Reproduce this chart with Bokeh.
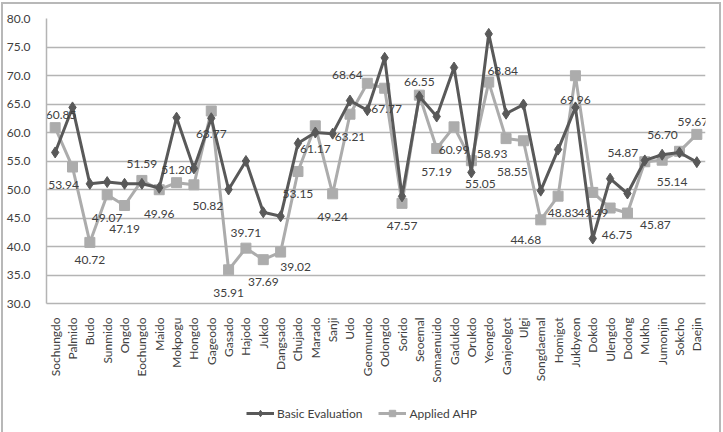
from bokeh.plotting import figure
from bokeh.layouts import column
from bokeh.models import (FactorRange, Range1d, FixedTicker, PrintfTickFormatter,
                          ColumnDataSource, Legend, LegendItem)
from bokeh.core.properties import value
from bokeh.embed import file_html
from bokeh.resources import INLINE
import math

categories = ["Sochungdo", "Palmido", "Budo", "Sunmido", "Ongdo", "Eochungdo", "Maido",
              "Mokpogu", "Hongdo", "Gageodo", "Gasado", "Hajodo", "Jukdo", "Dangsado",
              "Chujado", "Marado", "Sanji", "Udo", "Geomundo", "Odongdo", "Sorido",
              "Seoemal", "Somaenuido", "Gadukdo", "Orukdo", "Yeongdo", "Ganjeolgot",
              "Ulgi", "Songdaemal", "Homigot", "Jukbyeon", "Dokdo", "Ulengdo", "Dodong",
              "Mukho", "Jumonjin", "Sokcho", "Daejin"]

basic_evaluation = [56.5, 64.4, 51.0, 51.3, 51.0, 51.0, 50.3, 62.6, 53.7, 62.5,
                    50.0, 55.0, 46.0, 45.3, 58.1, 60.0, 59.8, 65.6, 63.9, 73.1,
                    48.8, 66.3, 62.8, 71.4, 53.0, 77.3, 63.3, 64.9, 49.8, 57.0,
                    64.4, 41.4, 51.9, 49.3, 55.1, 56.1, 56.5, 54.8]

applied_ahp = [60.85, 53.94, 40.72, 49.07, 47.19, 51.59, 49.96, 51.20, 50.82, 63.77,
               35.91, 39.71, 37.69, 39.02, 53.15, 61.17, 49.24, 63.21, 68.64, 67.77,
               47.57, 66.55, 57.19, 60.99, 55.05, 68.84, 58.93, 58.55, 44.68, 48.83,
               69.96, 49.49, 46.75, 45.87, 54.87, 55.14, 56.70, 59.67]

y_ticks = [30, 35, 40, 45, 50, 55, 60, 65, 70, 75, 80]
series_names = ["Basic Evaluation", "Applied AHP"]

# label placement (screen-pixel offsets from each Applied AHP point; dy positive = down)
label_dx = [6, -9, 0, 0, 0, 0, 0, 0, 14, 0, 0, 0, 0, 15, 0, 0, 0, 0, -20, 2,
            0, 0, 0, 0, 9, 14, -14, -11, -15, 5, 0, 0, 7, 28, -22, 10, -17, -4]
label_dy = [-13, 18, 18, 23, 23, -16, 24, -13, 21, 23, 23, -15, 22, 15, 22, 23, 23, 23, -8, 21,
            23, -13, 23, 23, 23, -11, 15, 31, 20, 17, 24, 21, 27, 12, -9, 22, -16, -12]

DARK = "#595959"
LIGHT = "#acacac"
GRID = "#b4b4b4"
TXT = "#404040"
FONT = "Lato"

src = ColumnDataSource(dict(
    cat=categories, idx=list(range(len(categories))), basic=basic_evaluation,
    ahp=applied_ahp, lbl=["%.2f" % v for v in applied_ahp], dx=label_dx, dy=label_dy))

p = figure(width=716, height=389, output_backend="svg", toolbar_location=None,
           x_range=FactorRange(*categories), y_range=Range1d(30, 80),
           min_border_left=42, min_border_right=14, min_border_top=14,
           min_border_bottom=90)
p.outline_line_color = None
p.background_fill_color = "white"
p.border_fill_color = "white"

p.xgrid.grid_line_color = None
p.ygrid.grid_line_color = GRID
p.ygrid.grid_line_width = 1.5

p.yaxis.ticker = FixedTicker(ticks=y_ticks)
p.yaxis.formatter = PrintfTickFormatter(format="%.1f")
p.yaxis.major_tick_line_color = None
p.yaxis.minor_tick_line_color = None
p.yaxis.axis_line_color = GRID
p.yaxis.axis_line_width = 1.5
p.yaxis.major_label_text_font = FONT
p.yaxis.major_label_text_font_size = "12px"
p.yaxis.major_label_text_color = TXT
p.yaxis.major_label_standoff = 10

p.xaxis.major_tick_line_color = None
p.xaxis.axis_line_color = GRID
p.xaxis.axis_line_width = 1.5
p.xaxis.major_label_orientation = math.pi / 2
p.xaxis.major_label_text_font = FONT
p.xaxis.major_label_text_font_size = "12px"
p.xaxis.major_label_text_color = TXT
p.xaxis.major_label_standoff = 8

p.line("cat", "ahp", source=src, line_color=LIGHT, line_width=3)
p.scatter("cat", "ahp", source=src, marker="square", size=10,
          fill_color=LIGHT, line_color=LIGHT)
p.line("cat", "basic", source=src, line_color=DARK, line_width=3)
p.scatter("cat", "basic", source=src, marker="diamond", size=11,
          fill_color=DARK, line_color=DARK)

p.text("cat", "ahp", text="lbl", source=src, x_offset="dx", y_offset="dy",
       text_align="center", text_baseline="middle", text_font=value(FONT),
       text_font_size="12px", text_color=TXT)

# legend strip below the chart: same series drawn out of view, only their legend shows
lf = figure(width=716, height=39, output_backend="svg", toolbar_location=None,
            x_range=Range1d(0, 1), y_range=Range1d(0, 1), min_border=0)
lf.axis.visible = False
lf.grid.visible = False
lf.outline_line_color = None
lf.border_fill_color = "white"
r1l = lf.line("idx", "basic", source=src, line_color=DARK, line_width=3)
r1s = lf.scatter("idx", "basic", source=src, marker="diamond", size=11,
                 fill_color=DARK, line_color=DARK)
r2l = lf.line("idx", "ahp", source=src, line_color=LIGHT, line_width=3)
r2s = lf.scatter("idx", "ahp", source=src, marker="square", size=9,
                 fill_color=LIGHT, line_color=LIGHT)
legend = Legend(items=[LegendItem(label=series_names[0], renderers=[r1l, r1s]),
                       LegendItem(label=series_names[1], renderers=[r2l, r2s])],
                orientation="horizontal", location=(200, 11),
                border_line_color=None, background_fill_alpha=0,
                label_text_font=FONT, label_text_font_size="12px",
                label_text_color=TXT, glyph_width=28, glyph_height=16,
                label_standoff=3, spacing=16, padding=0, margin=0)
lf.add_layout(legend, "center")

layout = column(p, lf, spacing=0)
layout.styles = {"border-left": "2px solid #b8b8b8", "border-top": "2px solid #b8b8b8",
                 "border-right": "2px solid #b8b8b8", "margin-left": "1px", "margin-top": "2px",
                 "background-color": "white"}

open("out.html", "w").write(file_html(layout, INLINE))
